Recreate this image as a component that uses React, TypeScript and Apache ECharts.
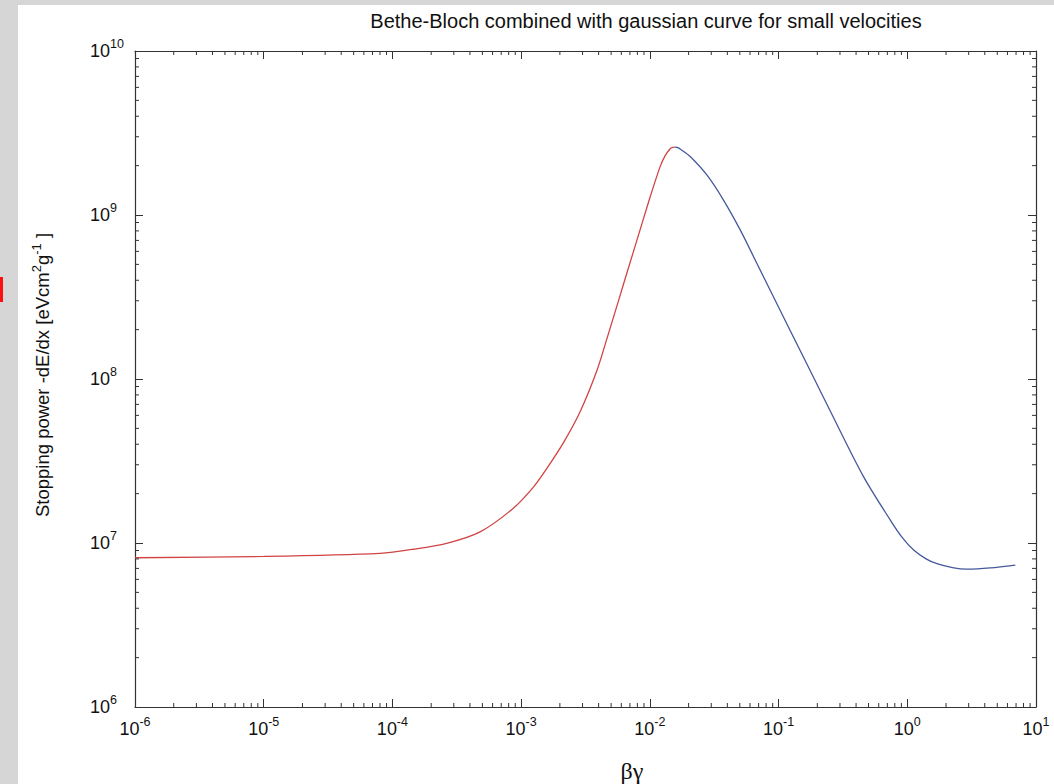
import React, { useEffect, useRef } from "react";
import * as echarts from "echarts";

const X_MIN = 1e-6;
const X_MAX = 10;
const Y_MIN = 1e6;
const Y_MAX = 1e10;

const titleText = "Bethe-Bloch combined with gaussian curve for small velocities";
const xName = "βγ";

// low-velocity (gaussian) part
const redX = [1e-6, 1e-5, 8e-5, 1.46e-4, 2.64e-4, 4.8e-4, 8.7e-4, 1.25e-3, 1.585e-3, 2.133e-3, 2.871e-3, 3.873e-3, 4.634e-3, 5.875e-3, 6.622e-3, 8.414e-3, 1.005e-2, 1.202e-2, 1.315e-2, 1.439e-2, 1.5e-2, 1.56e-2];
const redY = [8.13e6, 8.28e6, 8.65e6, 9.16e6, 9.96e6, 1.17e7, 1.63e7, 2.2e7, 2.85e7, 4.09e7, 6.31e7, 1.122e8, 1.758e8, 3.236e8, 4.416e8, 8.166e8, 1.288e9, 1.972e9, 2.3e9, 2.535e9, 2.585e9, 2.596e9];

// Bethe-Bloch part
const blueX = [1.56e-2, 1.63e-2, 1.74e-2, 2.056e-2, 2.773e-2, 3.733e-2, 5.035e-2, 6.79e-2, 9.14e-2, 0.123, 0.166, 0.252, 0.457, 0.738, 0.912, 1.12, 1.41, 1.7, 2.24, 2.91, 4.42, 6.9];
const blueY = [2.596e9, 2.585e9, 2.51e9, 2.275e9, 1.754e9, 1.233e9, 8.11e8, 5.06e8, 3.16e8, 1.977e8, 1.233e8, 6.38e7, 2.54e7, 1.38e7, 1.081e7, 9.06e6, 7.98e6, 7.48e6, 7.08e6, 6.93e6, 7.05e6, 7.34e6];

const minorMultipliers = [2, 3, 4, 5, 6, 7, 8, 9];
const xDecades = [-6, -5, -4, -3, -2, -1, 0];
const yDecades = [6, 7, 8, 9];

const FONT = "'Liberation Sans', Arial, Helvetica, sans-serif";
const AXIS_COLOR = "#333";

const xMinor: number[] = [];
xDecades.forEach((d) => minorMultipliers.forEach((m) => xMinor.push(m * Math.pow(10, d))));
const yMinor: number[] = [];
yDecades.forEach((d) => minorMultipliers.forEach((m) => yMinor.push(m * Math.pow(10, d))));

const expLabel = (v: number) => {
  const e = Math.round(Math.log10(v));
  return `{base|10}{sup|${e}}`;
};

const labelRich = {
  base: { fontSize: 18, fontFamily: FONT, color: "#111" },
  sup: { fontSize: 12.5, fontFamily: FONT, color: "#111", padding: [0, 0, 14, 0] },
};

export default function App() {
  const ref = useRef<HTMLDivElement>(null);
  useEffect(() => {
    if (!ref.current) return;
    const chart = echarts.init(ref.current, undefined, { renderer: "svg" });
    const axisLine = { show: true, onZero: false, lineStyle: { color: AXIS_COLOR, width: 1.2 } };
    const axisTick = { show: true, inside: true, length: 8, lineStyle: { color: AXIS_COLOR, width: 1 } };
    const tickStyle = { stroke: AXIS_COLOR, lineWidth: 1 };
    chart.setOption({
      animation: false,
      backgroundColor: "transparent",
      grid: { left: 135, top: 51, width: 901, height: 656, containLabel: false },
      graphic: [
        {
          type: "text",
          x: 646,
          y: 21,
          style: { text: titleText, fontSize: 20, fontFamily: FONT, fill: "#111", align: "center", verticalAlign: "middle" },
        },
        {
          type: "text",
          x: 632,
          y: 771,
          style: { text: xName, fontSize: 24, fontFamily: "'Liberation Serif', 'Times New Roman', serif", fill: "#111", align: "center", verticalAlign: "middle" },
        },
      ],
      xAxis: [
        {
          type: "log",
          logBase: 10,
          min: X_MIN,
          max: X_MAX,
          splitNumber: 7,
          axisLine,
          axisTick,
          splitLine: { show: false },
          axisLabel: { formatter: expLabel, fontSize: 18, fontFamily: FONT, color: "#111", rich: labelRich, margin: 8, showMinLabel: true, showMaxLabel: true },
        },
        {
          type: "log",
          logBase: 10,
          position: "top",
          min: X_MIN,
          max: X_MAX,
          splitNumber: 7,
          axisLine,
          axisTick,
          splitLine: { show: false },
          axisLabel: { show: false },
        },
      ],
      yAxis: [
        {
          type: "log",
          logBase: 10,
          min: Y_MIN,
          max: Y_MAX,
          splitNumber: 4,
          axisLine,
          axisTick,
          splitLine: { show: false },
          axisLabel: { formatter: expLabel, fontSize: 18, fontFamily: FONT, color: "#111", rich: labelRich, margin: 45, align: "left", showMinLabel: true, showMaxLabel: true },
          name: "{n|Stopping power -dE/dx [eVcm}{s|2}{n|g}{s|-1}{n| ]}",
          nameLocation: "middle",
          nameGap: 80,
          nameRotate: 90,
          nameTextStyle: {
            fontSize: 18.5,
            fontFamily: FONT,
            color: "#111",
            padding: [0, 0, 0, 8],
            rich: {
              n: { fontSize: 18.5, fontFamily: FONT, color: "#111" },
              s: { fontSize: 13, fontFamily: FONT, color: "#111", padding: [0, 0, 12, 0] },
            },
          },
        },
        {
          type: "log",
          logBase: 10,
          position: "right",
          min: Y_MIN,
          max: Y_MAX,
          splitNumber: 4,
          axisLine,
          axisTick,
          splitLine: { show: false },
          axisLabel: { show: false },
        },
      ],
      series: [
        {
          type: "line",
          name: "gaussian",
          data: redX.map((x, i) => [x, redY[i]]),
          smooth: 0.3,
          showSymbol: false,
          lineStyle: { color: "#d04444", width: 1.3 },
          z: 3,
        },
        {
          type: "line",
          name: "Bethe-Bloch",
          data: blueX.map((x, i) => [x, blueY[i]]),
          smooth: 0.3,
          showSymbol: false,
          lineStyle: { color: "#46589c", width: 1.3 },
          z: 3,
        },
        {
          type: "custom",
          silent: true,
          clip: false,
          data: xMinor.map((v) => [v, Y_MIN]),
          renderItem: (params: any, api: any) => {
            const v = api.value(0);
            const b = api.coord([v, Y_MIN]);
            const t = api.coord([v, Y_MAX]);
            return {
              type: "group",
              children: [
                { type: "line", shape: { x1: b[0], y1: b[1], x2: b[0], y2: b[1] - 4 }, style: tickStyle },
                { type: "line", shape: { x1: t[0], y1: t[1], x2: t[0], y2: t[1] + 4 }, style: tickStyle },
              ],
            };
          },
          z: 5,
        },
        {
          type: "custom",
          silent: true,
          clip: false,
          data: yMinor.map((v) => [X_MIN, v]),
          renderItem: (params: any, api: any) => {
            const v = api.value(1);
            const l = api.coord([X_MIN, v]);
            const r = api.coord([X_MAX, v]);
            return {
              type: "group",
              children: [
                { type: "line", shape: { x1: l[0], y1: l[1], x2: l[0] + 4, y2: l[1] }, style: tickStyle },
                { type: "line", shape: { x1: r[0], y1: r[1], x2: r[0] - 4, y2: r[1] }, style: tickStyle },
              ],
            };
          },
          z: 5,
        },
      ],
    });
    return () => chart.dispose();
  }, []);

  return (
    <div style={{ position: "fixed", left: 0, top: 0, width: 1054, height: 784, background: "#d6d6d6", overflow: "hidden" }}>
      <div style={{ position: "absolute", left: 0, top: 277, width: 3, height: 25, background: "#ff1010" }} />
      <div style={{ position: "absolute", left: 18, top: 5, width: 1036, height: 779, background: "#ffffff" }} />
      <div ref={ref} style={{ position: "absolute", left: 0, top: 0, width: 1054, height: 784 }} />
    </div>
  );
}
